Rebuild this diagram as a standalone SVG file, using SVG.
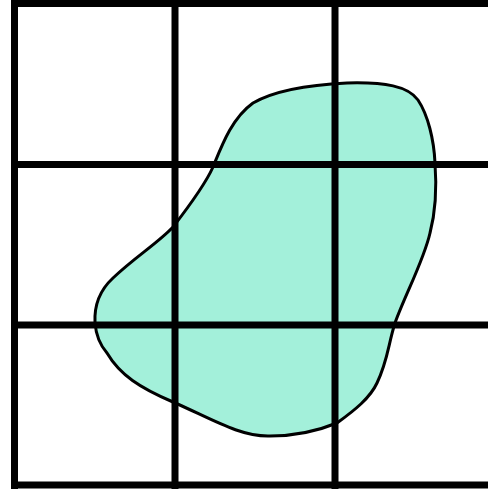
<svg xmlns="http://www.w3.org/2000/svg" width="488" height="489" viewBox="0 0 488 489">
<style>
.grid{stroke:#000;stroke-width:7;fill:none}
.blob{fill:#A3F0DA;stroke:#000;stroke-width:3;stroke-linejoin:round}
</style>
<rect width="488" height="489" fill="#fff"/>
<g id="blob">
<path class="blob" d="M347,83 C385,82 408,86 418,100 C428,115 434,140 435,163 C437,190 436,210 430,233 C424,260 405,295 395,323 C388,345 388,360 377,383 C370,398 355,410 337,423 C320,430 295,436 270,436 C240,437 210,418 173,402 C140,388 120,375 107,353 C100,345 96,335 95,323 C94,305 100,290 113,278 C135,257 158,243 173,227 C190,205 205,185 213,167 C222,145 232,118 253,103 C272,92 305,85 347,83 Z"/>
</g>
<g id="grid">
<line class="grid" x1="14.5" y1="0" x2="14.5" y2="489"/>
<line class="grid" x1="175" y1="0" x2="175" y2="489"/>
<line class="grid" x1="335" y1="0" x2="335" y2="489"/>
<line class="grid" x1="11" y1="3.5" x2="488" y2="3.5"/>
<line class="grid" x1="11" y1="164.5" x2="488" y2="164.5"/>
<line class="grid" x1="11" y1="325" x2="488" y2="325"/>
<line class="grid" x1="11" y1="485" x2="488" y2="485"/>
</g>
</svg>
